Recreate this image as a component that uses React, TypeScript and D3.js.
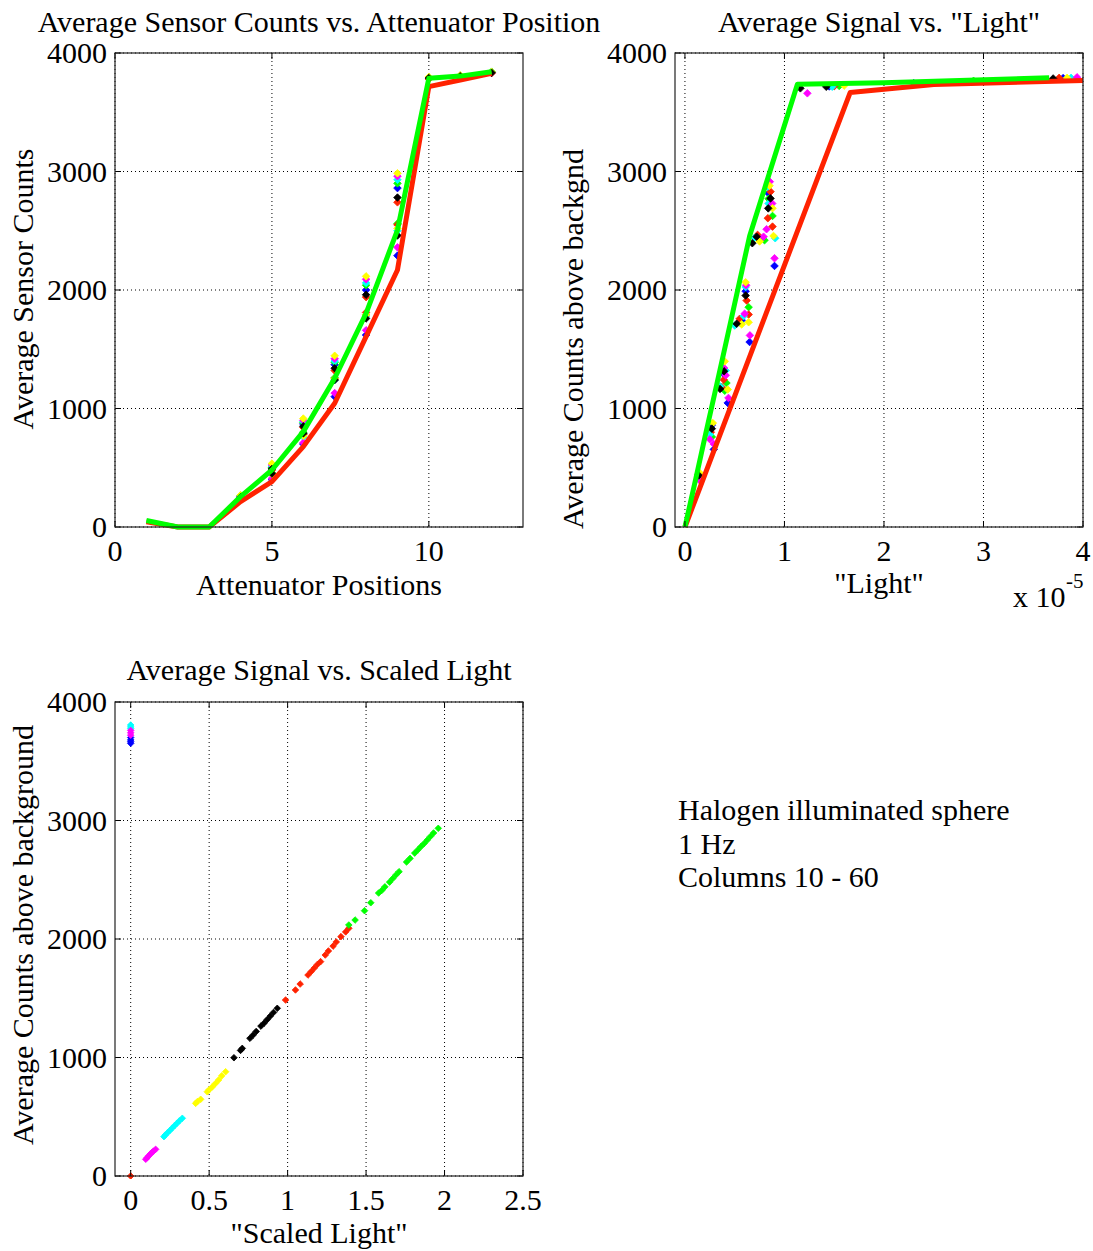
import React from 'react';
import * as d3 from 'd3';

const FONT = '"Liberation Serif", "Times New Roman", Times, serif';
const FS = 30;
const COLORS: Record<string, string> = {
  b: '#0000ff', g: '#00ff00', r: '#ff2200', c: '#00ffff', m: '#ff00ff', y: '#ffff00', k: '#000000',
};
const MARKER_ORDER = ['b', 'g', 'r', 'c', 'm', 'y', 'k'];

// ---------- Plot 1: Average Sensor Counts vs. Attenuator Position ----------
const p1Positions = [1, 2, 3, 4, 5, 6, 7, 8, 9, 10, 11, 12];
const p1Red = [45, 0, 0, 214, 383, 678, 1044, 1606, 2169, 3716, 3772, 3828];
const p1Green = [55, 0, 0, 256, 481, 805, 1255, 1803, 2506, 3786, 3805, 3842];
const p1Markers: Record<string, [number, number][]> = {
  b: [[4, 255], [5, 500], [5, 400], [6, 870], [6, 700], [7, 1370], [7, 1100], [8, 2000], [8, 1620], [9, 2860], [9, 2290], [10, 3790], [11, 3800], [12, 3835]],
  g: [[4, 265], [5, 505], [5, 455], [6, 880], [6, 800], [7, 1390], [7, 1260], [8, 2040], [8, 1790], [9, 2900], [9, 2560], [10, 3785], [11, 3805], [12, 3842]],
  r: [[4, 250], [5, 480], [5, 450], [6, 840], [6, 780], [7, 1320], [7, 1250], [8, 1940], [8, 1810], [9, 2740], [9, 2550], [10, 3780], [11, 3800], [12, 3830]],
  c: [[4, 262], [5, 515], [5, 445], [6, 890], [6, 760], [7, 1400], [7, 1240], [8, 2060], [8, 1780], [9, 2930], [9, 2500], [10, 3795], [11, 3810], [12, 3838]],
  m: [[4, 258], [5, 525], [5, 410], [6, 900], [6, 710], [7, 1420], [7, 1130], [8, 2090], [8, 1660], [9, 2960], [9, 2360], [10, 3792], [11, 3808], [12, 3836]],
  y: [[4, 268], [5, 535], [5, 448], [6, 915], [6, 770], [7, 1445], [7, 1250], [8, 2115], [8, 1790], [9, 2985], [9, 2520], [10, 3798], [11, 3812], [12, 3840]],
  k: [[4, 252], [5, 490], [5, 452], [6, 850], [6, 790], [7, 1340], [7, 1240], [8, 1960], [8, 1760], [9, 2780], [9, 2460], [10, 3788], [11, 3803], [12, 3833]],
};
const p1XTicks = [0, 5, 10];
const yTicksCounts = [0, 1000, 2000, 3000, 4000];

// ---------- Plot 2: Average Signal vs. "Light" (x in units of 1e-5) ----------
const p2GreenLight = [0, 0.055, 0.115, 0.2, 0.32, 0.465, 0.65, 1.13, 2.0, 3.66];
const p2GreenSignal = [0, 206, 431, 755, 1205, 1753, 2456, 3736, 3748, 3792];
const p2RedLight = [0, 0.074, 0.151, 0.284, 0.45, 0.704, 0.959, 1.66, 2.5, 5.4];
const p2RedSignal = [0, 164, 333, 628, 994, 1556, 2119, 3666, 3735, 3800];
const p2Markers: Record<string, [number, number][]> = {
  b: [[0.14, 420], [0.27, 860], [0.29, 655], [0.39, 1290], [0.43, 1047], [0.61, 1990], [0.57, 1745], [0.65, 1561], [0.84, 2815], [0.76, 2430], [0.9, 2203], [1.45, 3718], [2.3, 3745], [3.8, 3788]],
  g: [[0.135, 445], [0.27, 760], [0.417, 1215], [0.4, 1150], [0.64, 1855], [0.56, 1720], [0.84, 2770], [0.88, 2625], [0.8, 2420], [1.55, 3722], [2.9, 3765]],
  r: [[0.14, 410], [0.26, 800], [0.39, 1243], [0.37, 1180], [0.62, 1911], [0.64, 1793], [0.55, 1757], [0.86, 2830], [0.833, 2606], [0.88, 2535], [0.73, 2465], [1.5, 3720], [3.76, 3790]],
  c: [[0.145, 430], [0.25, 780], [0.41, 1320], [0.353, 1187], [0.61, 2025], [0.59, 1780], [0.5, 1700], [0.833, 2872], [0.84, 2730], [0.907, 2437], [0.7, 2440], [1.48, 3715], [3.88, 3790]],
  m: [[0.14, 400], [0.25, 740], [0.29, 700], [0.393, 1342], [0.41, 1280], [0.437, 1089], [0.615, 2040], [0.6, 1800], [0.653, 1617], [0.853, 2914], [0.877, 2730], [0.82, 2513], [0.79, 2450], [0.9, 2268], [1.23, 3660], [3.94, 3795]],
  y: [[0.15, 455], [0.28, 877], [0.4, 1398], [0.43, 1160], [0.61, 2065], [0.64, 1728], [0.57, 1710], [0.85, 2880], [0.88, 2690], [0.89, 2456], [0.75, 2410], [1.6, 3725], [3.84, 3790]],
  k: [[0.14, 435], [0.27, 830], [0.393, 1314], [0.353, 1165], [0.61, 1953], [0.52, 1715], [0.86, 2773], [0.837, 2689], [0.677, 2395], [0.72, 2450], [1.16, 3702], [1.42, 3715], [3.7, 3785]],
};
const p2XTicks = [0, 1, 2, 3, 4];

// ---------- Plot 3: Average Signal vs. Scaled Light ----------
const p3Markers: Record<string, [number, number][]> = {
  b: [[0, 3700], [0, 3680], [0, 3665], [0, 3651]],
  c: [[0.212, 332], [0.22, 345], [0.235, 365], [0.25, 385], [0.265, 405], [0.28, 425], [0.295, 445], [0.31, 465], [0.329, 487], [0, 3806], [0, 3790], [0, 3775]],
  m: [[0.096, 141], [0.105, 155], [0.115, 170], [0.125, 185], [0.135, 198], [0.145, 210], [0.159, 225], [0, 3760], [0, 3740], [0, 3720]],
  y: [[0.414, 613], [0.425, 628], [0.446, 647], [0.488, 711], [0.5, 728], [0.52, 752], [0.54, 780], [0.56, 810], [0.58, 845], [0.605, 880]],
  k: [[0.658, 998], [0.7, 1060], [0.711, 1077], [0.76, 1162], [0.78, 1190], [0.8, 1220], [0.83, 1265], [0.85, 1290], [0.87, 1320], [0.89, 1350], [0.91, 1380], [0.934, 1415]],
  r: [[0, 0], [0.987, 1485], [1.05, 1570], [1.08, 1620], [1.13, 1696], [1.15, 1725], [1.17, 1755], [1.19, 1785], [1.21, 1809], [1.24, 1865], [1.26, 1899], [1.29, 1940], [1.31, 1975], [1.34, 2020], [1.37, 2060], [1.39, 2090]],
  g: [[1.39, 2118], [1.43, 2160], [1.49, 2239], [1.53, 2306], [1.58, 2388], [1.6, 2410], [1.62, 2440], [1.65, 2480], [1.67, 2510], [1.69, 2540], [1.71, 2568], [1.758, 2650], [1.78, 2680], [1.81, 2725], [1.83, 2752], [1.85, 2780], [1.87, 2806], [1.89, 2835], [1.91, 2865], [1.93, 2895], [1.96, 2934]],
};
const p3XTicks = [0, 0.5, 1, 1.5, 2, 2.5];
const p3Order = ['b', 'c', 'm', 'y', 'k', 'r', 'g'];

const annotationLines = ['Halogen illuminated sphere', '1 Hz', 'Columns 10 - 60'];

type Box = { left: number; right: number; top: number; bottom: number };

const diamond = (r: number) => `M0,${-r}L${r},0L0,${r}L${-r},0Z`;

function Panel(props: {
  id: string;
  box: Box;
  xDomain: [number, number];
  xTicks: number[];
  title: string;
  titleY: number;
  xLabel: string;
  xLabelY: number;
  yLabel: string;
  yLabelX: number;
  yLabelCY: number;
  tickLabelY: number;
  markers: Record<string, [number, number][]>;
  order: string[];
  markerR: number;
  lines?: { color: string; xs: number[]; ys: number[] }[];
}) {
  const { box, xDomain, xTicks } = props;
  const x = d3.scaleLinear().domain(xDomain).range([box.left, box.right]);
  const y = d3.scaleLinear().domain([0, 4000]).range([box.bottom, box.top]);
  const tl = 6;
  const line = d3.line<[number, number]>().x((d) => x(d[0])).y((d) => y(d[1]));
  const cx = (box.left + box.right) / 2;
  return (
    <g>
      <defs>
        <clipPath id={props.id}>
          <rect x={box.left} y={box.top - 3} width={box.right - box.left} height={box.bottom - box.top + 6} />
        </clipPath>
      </defs>
      {xTicks.map((t) => (
        <line key={'gx' + t} x1={x(t)} x2={x(t)} y1={box.top} y2={box.bottom} stroke="#000" strokeWidth={1} strokeDasharray="1,3" />
      ))}
      {yTicksCounts.map((t) => (
        <line key={'gy' + t} x1={box.left} x2={box.right} y1={y(t)} y2={y(t)} stroke="#000" strokeWidth={1} strokeDasharray="1,3" />
      ))}
      <g clipPath={`url(#${props.id})`}>
        {props.order.map((c) =>
          (props.markers[c] || []).map((p, i) => (
            <path key={c + i} d={diamond(props.markerR)} transform={`translate(${x(p[0])},${y(p[1])})`} fill={COLORS[c]} stroke={COLORS[c]} strokeWidth={0.8} />
          ))
        )}
        {(props.lines || []).map((l, i) => (
          <path key={'l' + i} d={line(l.xs.map((v, j) => [v, l.ys[j]] as [number, number])) || ''} fill="none" stroke={l.color} strokeWidth={5} strokeLinejoin="round" />
        ))}
      </g>
      {xTicks.map((t) => (
        <g key={'tx' + t}>
          <line x1={x(t)} x2={x(t)} y1={box.bottom} y2={box.bottom - tl} stroke="#000" />
          <line x1={x(t)} x2={x(t)} y1={box.top} y2={box.top + tl} stroke="#000" />
          <text x={x(t)} y={props.tickLabelY} textAnchor="middle" fontFamily={FONT} fontSize={FS}>{String(t)}</text>
        </g>
      ))}
      {yTicksCounts.map((t) => (
        <g key={'ty' + t}>
          <line x1={box.left} x2={box.left + tl} y1={y(t)} y2={y(t)} stroke="#000" />
          <line x1={box.right} x2={box.right - tl} y1={y(t)} y2={y(t)} stroke="#000" />
          <text x={box.left - 8} y={y(t) + 10} textAnchor="end" fontFamily={FONT} fontSize={FS}>{String(t)}</text>
        </g>
      ))}
      <rect x={box.left} y={box.top} width={box.right - box.left} height={box.bottom - box.top} fill="none" stroke="#222" strokeWidth={1.2} />
      <text x={cx} y={props.titleY} textAnchor="middle" fontFamily={FONT} fontSize={FS}>{props.title}</text>
      <text x={cx} y={props.xLabelY} textAnchor="middle" fontFamily={FONT} fontSize={FS}>{props.xLabel}</text>
      <text transform={`translate(${props.yLabelX},${props.yLabelCY}) rotate(-90)`} textAnchor="middle" fontFamily={FONT} fontSize={FS}>{props.yLabel}</text>
    </g>
  );
}

export default function App() {
  return (
    <svg width={1093} height={1251} style={{ position: 'absolute', left: 0, top: 0, background: '#fff' }}>
      <rect x={0} y={0} width={1093} height={1251} fill="#fff" />
      <Panel
        id="c1"
        box={{ left: 115, right: 523, top: 53, bottom: 527 }}
        xDomain={[0, 13]}
        xTicks={p1XTicks}
        title="Average Sensor Counts vs. Attenuator Position"
        titleY={32}
        xLabel="Attenuator Positions"
        xLabelY={595}
        yLabel="Average Sensor Counts"
        yLabelX={33}
        yLabelCY={289}
        tickLabelY={561}
        markers={p1Markers}
        order={MARKER_ORDER}
        markerR={3.8}
        lines={[
          { color: COLORS.r, xs: p1Positions, ys: p1Red },
          { color: COLORS.g, xs: p1Positions, ys: p1Green },
        ]}
      />
      <Panel
        id="c2"
        box={{ left: 675, right: 1083, top: 53, bottom: 527 }}
        xDomain={[-0.1, 4]}
        xTicks={p2XTicks}
        title={'Average Signal vs. "Light"'}
        titleY={32}
        xLabel={'"Light"'}
        xLabelY={593}
        yLabel="Average Counts above backgnd"
        yLabelX={583}
        yLabelCY={339}
        tickLabelY={561}
        markers={p2Markers}
        order={MARKER_ORDER}
        markerR={3.8}
        lines={[
          { color: COLORS.r, xs: p2RedLight, ys: p2RedSignal },
          { color: COLORS.g, xs: p2GreenLight, ys: p2GreenSignal },
        ]}
      />
      <text x={1013} y={607} fontFamily={FONT} fontSize={FS}>x 10</text>
      <text x={1066} y={588} fontFamily={FONT} fontSize={21}>-5</text>
      <Panel
        id="c3"
        box={{ left: 115, right: 523, top: 702, bottom: 1176 }}
        xDomain={[-0.1, 2.5]}
        xTicks={p3XTicks}
        title="Average Signal vs. Scaled Light"
        titleY={680}
        xLabel={'"Scaled Light"'}
        xLabelY={1243}
        yLabel="Average Counts above background"
        yLabelX={33}
        yLabelCY={935}
        tickLabelY={1210}
        markers={p3Markers}
        order={p3Order}
        markerR={3.3}
      />
      {annotationLines.map((t, i) => (
        <text key={t} x={678} y={820 + i * 33.5} fontFamily={FONT} fontSize={FS}>{t}</text>
      ))}
    </svg>
  );
}
